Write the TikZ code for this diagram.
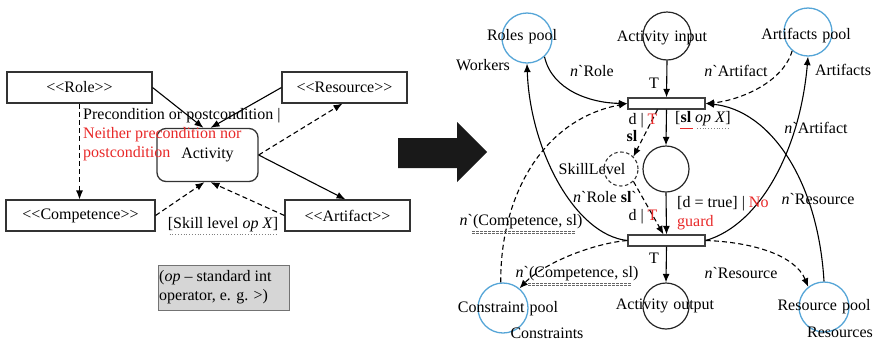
\documentclass[tikz,border=0pt]{standalone}
\usepackage{fontspec}
\setmainfont{Liberation Serif}
% a serif face without TeX input ligatures, so ` and << stay literal
\newfontfamily\plainserif{Liberation Serif}
\usetikzlibrary{arrows.meta,calc}
\definecolor{poolblue}{RGB}{85,165,215}
\definecolor{warnred}{RGB}{232,40,40}
\newcommand{\bq}{{\plainserif`}}
\newcommand{\nn}{\textit{n}}
\begin{document}
\begin{tikzpicture}[x=1pt,y=-1pt,
  txt/.style={font=\plainserif\fontsize{16}{19}\selectfont, inner sep=0pt},
  umlbox/.style={txt, draw=black!80, line width=1.1pt},
  arr/.style={-{Latex[length=9pt,width=7pt]}, line width=1.1pt},
  arrs/.style={-{Latex[length=8.5pt,width=7pt]}, line width=1.1pt},
  dsh/.style={dash pattern=on 5pt off 3.2pt},
  place/.style={circle, draw=black!85, line width=1.2pt, inner sep=0pt},
  pool/.style={circle, draw=poolblue, line width=1.3pt, inner sep=0pt},
  trans/.style={draw=black!75, fill=white, line width=1.2pt, minimum width=77pt, minimum height=11pt, inner sep=0pt},
  spellmark/.style={black!60, dash pattern=on 2.5pt off 1.5pt, line width=0.6pt}]
\useasboundingbox (0,0) rectangle (877,341);

% ---------------- left: class-style sketch ----------------
\node[umlbox, minimum width=145pt, minimum height=31pt] (role) at (79.5,87.5) {<<Role>>};
\node[umlbox, minimum width=125pt, minimum height=31pt] (resource) at (344.5,87.5) {<<Resource>>};
\node[umlbox, minimum width=149pt, minimum height=31pt] (comp) at (80.5,215.5) {<<Competence>>};
\node[umlbox, minimum width=125pt, minimum height=31pt] (artifact) at (347.5,215.5) {<<Artifact>>};
\node[umlbox, rounded corners=9pt, line width=1.3pt, minimum width=101pt, minimum height=53pt] (activity) at (207.5,155) {};
\node[txt] (activitylbl) at (207.5,155) {Activity};

\node[txt, anchor=west, align=left] (cond) at (83,134.5)
  {Precondition or postcondition |\\
   \textcolor{warnred}{Neither precondition nor}\\
   \textcolor{warnred}{postcondition}};

\draw[arr] (role.east) -- ($(activity.north)+(-4,0)$);
\draw[arr] (resource.west) -- ($(activity.north)+(3,0)$);
\draw[arr, dsh] (role.south) -- (role.south |- comp.north);
\draw[arr, dsh] (activity.east) -- ($(resource.south)+(-2,0)$);
\draw[arr] (activity.east) -- ($(artifact.north)+(-2,0)$);
\draw[arr, dsh] (comp.east) -- ($(activity.south)+(-3,0)$);
\draw[arr, dsh] (artifact.west) -- ($(activity.south)+(3,0)$);

\node[txt] (skillcond) at (223,225) {[Skill level \textit{op X}]};
\draw[black!50, dotted, line width=0.8pt] ($(skillcond.south west)+(2,2)$) -- ($(skillcond.south east)+(-2,2)$);

\node[draw=black!55, fill=black!16, line width=0.9pt, minimum width=131pt, minimum height=45pt] (opnote) at (223.5,287.5) {};
\node[txt, anchor=west, align=left] (opnotetext) at (159,287.5)
  {(\textit{op} – standard int\\operator, e. g. >)};

% ---------------- transformation arrow ----------------
\fill[black!90] (398,138) -- (457,138) -- (457,122) -- (487,152) -- (457,182) -- (457,168) -- (398,168) -- cycle;

% ---------------- right: Petri net ----------------
\node[pool, minimum size=50pt] (rolespool) at (527,38) {};
\node[place, minimum size=48pt] (actin) at (667,36) {};
\node[pool, minimum size=48pt] (artpool) at (808,32) {};
\node[trans] (ttop) at (666.5,103.5) {};
\node[place, minimum size=46pt] (mid) at (666,169) {};
\node[place, dash pattern=on 3.5pt off 2.5pt, draw=black!80, line width=1.1pt, minimum size=34pt] (skill) at (621,169) {};
\node[trans] (tbot) at (666.5,240.5) {};
\node[place, minimum size=46pt] (actout) at (666,306) {};
\node[pool, minimum size=50pt] (conpool) at (503,308) {};
\node[pool, minimum size=50pt] (respool) at (824,307) {};

% arcs into the upper transition
\draw[arrs] (rolespool.-47) .. controls (552,90) and (590,103) .. (ttop.west);
\draw[arrs] (actin.south) -- (ttop.north);
\draw[arrs, dsh] (artpool.-130) .. controls (782,85) and (735,101) .. (ttop.east);
\draw[arrs, dsh] (conpool.95) .. controls (500,200) and (540,120) .. (ttop.west);
\draw[arrs] (respool.north) .. controls (818,180) and (770,110) .. (ttop.east);

% arcs around the middle place
\draw[arrs] (ttop.south) -- (mid.north);
\draw[arrs, dsh] ($(ttop.south)+(-9,0)$) -- (skill.45);
\draw[arrs] (mid.south) -- (tbot.north);
\draw[arrs, dsh] (skill.-45) -- ($(tbot.north)+(-3,0)$);

% arcs out of the lower transition
\draw[arrs] (tbot.west) .. controls (575,235) and (530,150) .. (rolespool.south);
\draw[arrs, dsh] (tbot.west) .. controls (595,243) and (545,262) .. (conpool.50);
\draw[arrs] (tbot.east) .. controls (760,225) and (800,150) .. (artpool.south);
\draw[arrs, dsh] (tbot.east) .. controls (752,242) and (795,255) .. (respool.128);
\draw[arrs] (tbot.south) -- (actout.north);

% place names and colour sets
\node[txt] (lroles) at (522,37) {Roles\hspace{5pt}pool};
\node[txt] (lworkers) at (483,65) {Workers};
\node[txt] (lactin) at (662,38) {Activity\hspace{5pt}input};
\node[txt] (lartpool) at (806,36) {Artifacts\hspace{5pt}pool};
\node[txt] (lartifacts) at (843,70) {Artifacts};
\node[txt] (lskill) at (592,169) {SkillLevel};
\node[txt] (lcon) at (508,309) {Constraint\hspace{5pt}pool};
\node[txt] (lconstraints) at (547,333) {Constraints};
\node[txt] (lactout) at (665,306) {Activity\hspace{5pt}output};
\node[txt] (lres) at (824,307) {Resource\hspace{5pt}pool};
\node[txt] (lresources) at (840,332) {Resources};

% arc inscriptions, guards and transition labels
\node[txt] (irole) at (592,71) {\nn\bq Role};
\node[txt] (ttopT) at (654,83) {T};
\node[txt] (iart) at (736,71) {\nn\bq Artifact};
\node[txt] (ttopd) at (643,121) {d | \textcolor{warnred}{T}};
\node[txt] (gtop) at (703,119) {[\textbf{sl} \textit{op X}]};
\draw[warnred, line width=0.7pt] ($(gtop.south west)+(5,1.5)$) -- ++(13,0);
\draw[black!50, dotted, line width=0.8pt] ($(gtop.south west)+(22,1.5)$) -- ($(gtop.south east)+(-1,1.5)$);
\node[txt] (isl) at (632,136) {\textbf{sl}};
\node[txt] (irolesl) at (605,197) {\nn\bq Role \textbf{sl}\bq};
\node[txt] (tbotd) at (643,217) {d | \textcolor{warnred}{T}};
\node[txt, anchor=west, align=left] (gbot) at (677,213) {[d = true] | \textcolor{warnred}{No}\\\textcolor{warnred}{guard}};
\node[txt] (ires) at (818,199) {\nn\bq Resource};
\node[txt] (iart2) at (816,128) {\nn\bq Artifact};
\node[txt] (tbotT) at (654,258) {T};
\node[txt] (icomp1) at (521,222) {\nn\bq(Competence, sl)};
\draw[spellmark] ($(icomp1.south west)+(13,2)$) -- ($(icomp1.south east)+(-7,2)$);
\draw[spellmark] ($(icomp1.south west)+(13,4)$) -- ($(icomp1.south east)+(-7,4)$);
\node[txt] (icomp2) at (577,274) {\nn\bq(Competence, sl)};
\draw[spellmark] ($(icomp2.south west)+(13,2)$) -- ($(icomp2.south east)+(-7,2)$);
\draw[spellmark] ($(icomp2.south west)+(13,4)$) -- ($(icomp2.south east)+(-7,4)$);
\node[txt] (ires2) at (741,273) {\nn\bq Resource};
\end{tikzpicture}
\end{document}
